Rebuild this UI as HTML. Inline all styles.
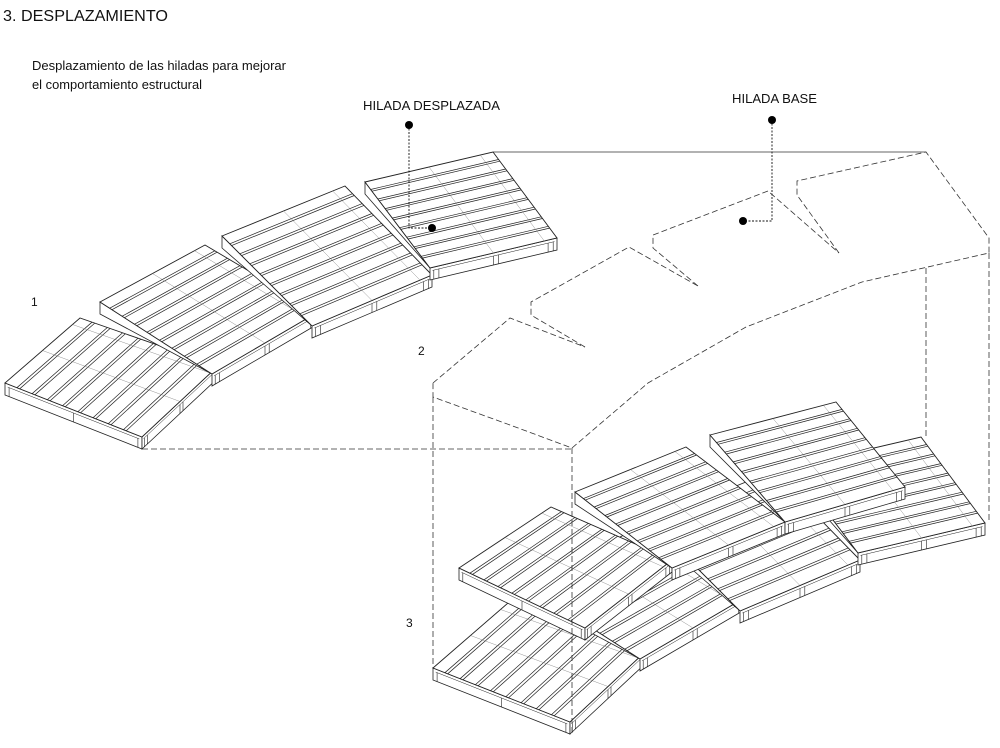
<!DOCTYPE html>
<html><head><meta charset="utf-8">
<style>
html,body{margin:0;padding:0;background:#fff;}
body{width:1000px;height:748px;overflow:hidden;position:relative;}
svg{position:absolute;left:0;top:0;}
text{font-family:"Liberation Sans",sans-serif;fill:#111;}
</style></head>
<body>
<svg id="s" width="1000" height="748" viewBox="0 0 1000 748" xmlns="http://www.w3.org/2000/svg">
<text x="3" y="21" font-size="16" textLength="165" lengthAdjust="spacingAndGlyphs">3. DESPLAZAMIENTO</text>
<text x="32" y="70" font-size="12.5" textLength="254" lengthAdjust="spacingAndGlyphs">Desplazamiento de las hiladas para mejorar</text>
<text x="32" y="89" font-size="12.5" textLength="170" lengthAdjust="spacingAndGlyphs">el comportamiento estructural</text>
<text x="363" y="110" font-size="12.5" textLength="137" lengthAdjust="spacingAndGlyphs">HILADA DESPLAZADA</text>
<text x="732" y="103" font-size="12.5" textLength="85" lengthAdjust="spacingAndGlyphs">HILADA BASE</text>
<text x="31" y="306" font-size="12">1</text>
<text x="418" y="355" font-size="12">2</text>
<text x="406" y="627" font-size="12">3</text>
<g id="g"></g>
</svg>
<script>
(function(){
var g=document.getElementById('g');
var out='';
function P(a){return a.map(function(p){return p[0].toFixed(1)+','+p[1].toFixed(1)}).join(' ');}
function L(a,b,w,c){out+='<line x1="'+a[0].toFixed(1)+'" y1="'+a[1].toFixed(1)+'" x2="'+b[0].toFixed(1)+'" y2="'+b[1].toFixed(1)+'" stroke="'+(c||'#222')+'" stroke-width="'+(w||0.7)+'"/>';}
function lerp(a,b,t){return [a[0]+(b[0]-a[0])*t,a[1]+(b[1]-a[1])*t];}
function dn(p,t){return [p[0],p[1]+t];}
function pallet(q,off,wedge){
 off=off||[0,0];var t=12;
 var p=q.map(function(v){return [v[0]+off[0],v[1]+off[1]];});
 var p0=p[0],p1=p[1],p2=p[2],p3=p[3];
 if(wedge){
  out+='<polygon points="'+P([p0,p3,dn(p0,t)])+'" fill="#fff" stroke="#222" stroke-width="0.8"/>';
 } else {
  out+='<polygon points="'+P([p0,p3,dn(p3,t),dn(p0,t)])+'" fill="#fff" stroke="#222" stroke-width="0.8"/>';
 }
 out+='<polygon points="'+P([p3,p2,dn(p2,t),dn(p3,t)])+'" fill="#fff" stroke="#222" stroke-width="0.8"/>';
 out+='<polygon points="'+P([p0,p1,p2,p3])+'" fill="#fff" stroke="#222" stroke-width="0.9"/>';
 var N=9;
 for(var i=0;i<N-1;i++){
  var f1=(i+0.78)/N, f2=(i+1)/N-0.004;
  var a=lerp(p0,p3,f1),b=lerp(p1,p2,f1),c=lerp(p0,p3,f2),d=lerp(p1,p2,f2);
  L(a,b,0.7);L(c,d,0.7);
 }
 [0.5,0.9].forEach(function(s){
  var a=lerp(p0,p1,s),b=lerp(p3,p2,s);L(a,b,0.4,'#777');
 });
 [0.03,0.5,0.97].forEach(function(s){
  if(!wedge){var a=lerp(p0,p3,s);L([a[0],a[1]+3],dn(a,t),0.6);}
  var b=lerp(p3,p2,s);L([b[0],b[1]+3],dn(b,t),0.6);
  var b2=lerp(p3,p2,s+(s>0.9?-0.04:0.04));L([b2[0],b2[1]+3],dn(b2,t),0.6);
 });
 var c=lerp(p3,p2,0.02),e=lerp(p3,p2,0.98);L([c[0],c[1]+3],[e[0],e[1]+3],0.5);
 if(!wedge){var c2=lerp(p0,p3,0.02),e2=lerp(p0,p3,0.98);L([c2[0],c2[1]+3],[e2[0],e2[1]+3],0.5);}
}
var P1=[[5,383],[80,318],[218,366],[142,437]];
var P2=[[100,302],[205,245],[318,312],[212,374]];
var P3=[[222,236],[345,186],[432,275],[312,326]];
var P4=[[365,182],[493,152],[557,238],[430,268]];
[P1,P2,P3,P4].forEach(function(q,i){pallet(q,null,i>0);});
var o=[428,285];
[P1,P2,P3,P4].forEach(function(q,i){pallet(q,o,i>0);});
pallet([[459,568],[551,507],[672,560],[585,628]]);
pallet([[575,492],[686,447],[785,522],[672,568]],null,true);
pallet([[710,435],[836,402],[905,487],[785,522]],null,true);
var ds=' fill="none" stroke="#333" stroke-width="0.8" stroke-dasharray="6,3"';
out+='<polyline points="433,383 510,318 585,347"'+ds+'/>';
out+='<polyline points="585,347 531,315 531,302 629,247 698,286"'+ds+'/>';
out+='<polyline points="698,286 653,248 653,235 768,191 839,253"'+ds+'/>';
out+='<polyline points="839,253 797,195 797,181 926,152 989,238 989,253 862,282 746,327 648,383 572,448 510,425 433,397 433,383"'+ds+'/>';
out+='<line x1="433" y1="397" x2="433" y2="668"'+ds+'/>';
out+='<line x1="572" y1="448" x2="572" y2="735"'+ds+'/>';
out+='<line x1="926" y1="268" x2="926" y2="437"'+ds+'/>';
out+='<line x1="989" y1="253" x2="989" y2="523"'+ds+'/>';
out+='<line x1="142" y1="449" x2="572" y2="449"'+ds+'/>';
out+='<line x1="493" y1="152" x2="926" y2="152" stroke="#333" stroke-width="0.8"/>';
var ls=' fill="none" stroke="#111" stroke-width="0.9" stroke-dasharray="2,1.5"';
out+='<polyline points="409,125 409,228 432,228"'+ls+'/>';
out+='<circle cx="409" cy="125" r="4" fill="#000"/><circle cx="432" cy="228" r="4" fill="#000"/>';
out+='<polyline points="772,120 772,221 743,221"'+ls+'/>';
out+='<circle cx="772" cy="120" r="4" fill="#000"/><circle cx="743" cy="221" r="4" fill="#000"/>';
g.innerHTML=out;
})();
</script>
</body></html>
